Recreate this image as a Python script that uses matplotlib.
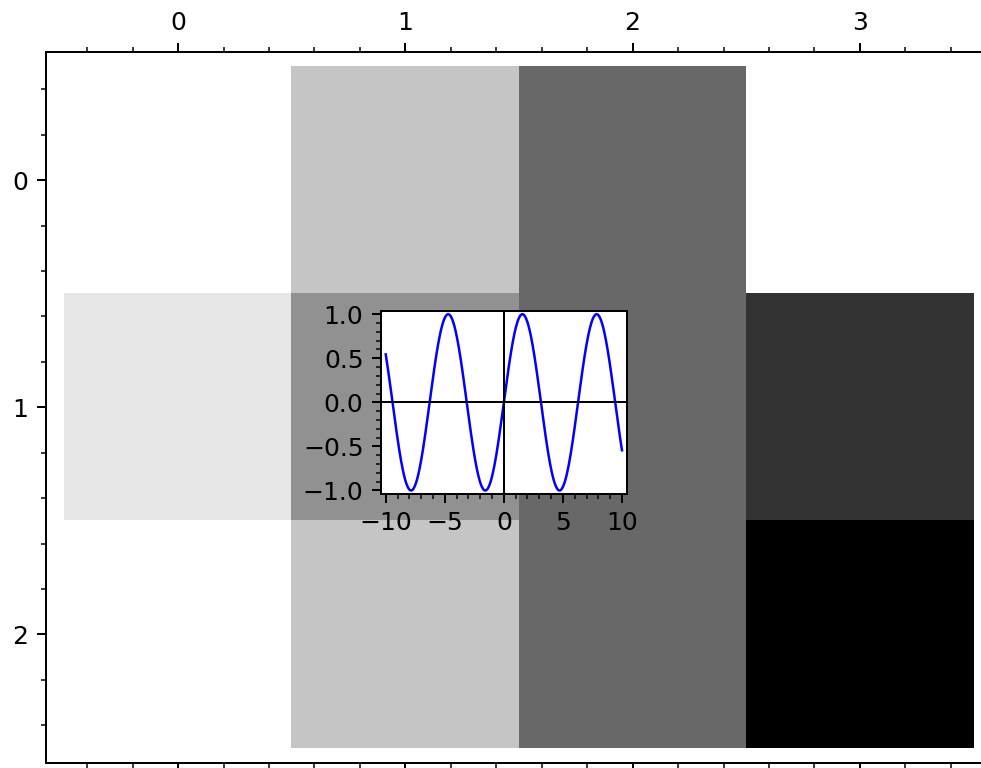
import numpy as np
import matplotlib
matplotlib.use('Agg')
import matplotlib.pyplot as plt
from matplotlib.ticker import MultipleLocator

# matrix values (gray_r, 0 = white, 1 = black)
row0 = [0.0, 0.23, 0.59, 0.0]
row1 = [0.10, 0.43, 0.59, 0.80]
row2 = [0.0, 0.23, 0.59, 1.0]
main_xticks = [0, 1, 2, 3]
main_yticks = [0, 1, 2]

# inset: sin(x) over the plotted range
x_start, x_end = -10, 10
inset_xticks = [-10, -5, 0, 5, 10]
inset_yticks = [-1.0, -0.5, 0.0, 0.5, 1.0]

W, H = 981, 768
dpi = 180
fig = plt.figure(figsize=(W / dpi, H / dpi), dpi=dpi)

# main axes, pixel box -> figure fraction
l, t, r, b = 46, 52.3, 991.7, 762.7
ax = fig.add_axes([l / W, (H - b) / H, (r - l) / W, (b - t) / H])
mat = np.array([row0, row1, row2])
ax.imshow(mat, cmap='gray_r', vmin=0, vmax=1, interpolation='nearest',
          extent=(-0.5, 3.5, 2.5, -0.5), aspect='auto')
ax.set_xlim(-0.581, 3.58)
ax.set_ylim(2.565, -0.563)
ax.set_xticks(main_xticks)
ax.set_yticks(main_yticks)
ax.xaxis.set_minor_locator(MultipleLocator(0.2))
ax.yaxis.set_minor_locator(MultipleLocator(0.2))
ax.tick_params(which='both', top=True, bottom=True, labeltop=True, labelbottom=False)

# inset sine plot
il, it, ir, ib = 381, 310.7, 626.7, 494
ins = fig.add_axes([il / W, (H - ib) / H, (ir - il) / W, (ib - it) / H])
xs = np.linspace(x_start, x_end, 400)
ins.plot(xs, np.sin(xs), color='blue', linewidth=1)
ins.axhline(0, color='black', linewidth=0.8)
ins.axvline(0, color='black', linewidth=0.8)
ins.margins(0.02)
ins.set_xticks(inset_xticks)
ins.set_yticks(inset_yticks)
ins.xaxis.set_minor_locator(MultipleLocator(1))
ins.yaxis.set_minor_locator(MultipleLocator(0.1))

fig.savefig('out.png', dpi=dpi)
